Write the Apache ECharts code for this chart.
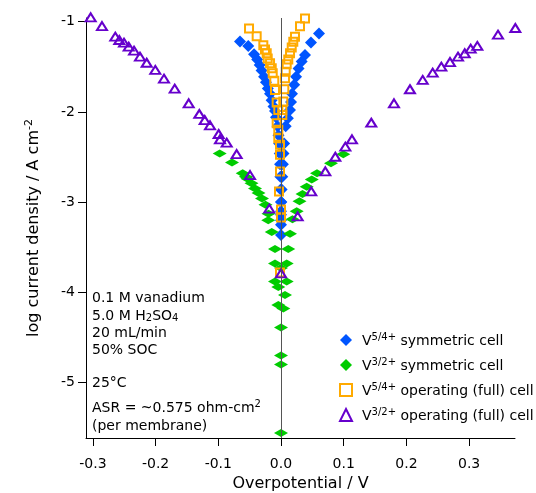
<!DOCTYPE html>
<html>
<head>
<meta charset="utf-8">
<script src="https://cdn.jsdelivr.net/npm/echarts@6/dist/echarts.min.js"></script>
<style>
  html, body { margin: 0; padding: 0; background: #fff; }
  #chart { width: 536px; height: 493px; }
</style>
</head>
<body>
<div id="chart"></div>
<script>
// [overpotential V, log current density]
const v54SymLeft = [
  [-0.0654, -1.22], [-0.0522, -1.27], [-0.043, -1.36], [-0.038, -1.42], [-0.034, -1.48],
  [-0.031, -1.54], [-0.027, -1.61], [-0.024, -1.67], [-0.021, -1.74], [-0.0175, -1.80],
  [-0.015, -1.87], [-0.012, -1.94], [-0.0096, -1.99], [-0.008, -2.06], [-0.0055, -2.16],
  [-0.004, -2.26], [-0.003, -2.35], [-0.002, -2.46], [-0.0015, -2.58], [-0.001, -2.72],
  [-0.0005, -2.86], [0, -3.0], [0, -3.14], [0, -3.25]
];
const v54SymRight = [
  [0.0606, -1.13], [0.0478, -1.23], [0.0383, -1.37], [0.033, -1.44], [0.028, -1.52],
  [0.024, -1.61], [0.021, -1.70], [0.0175, -1.80], [0.016, -1.89], [0.0144, -1.98],
  [0.011, -2.07], [0.0075, -2.16], [0.005, -2.35], [0.004, -2.46], [0.003, -2.58],
  [0.002, -2.72], [0.001, -2.86], [0.0005, -3.0], [0, -3.1], [0, -3.2], [0, -3.365]
];
const v32SymLeft = [
  [-0.0978, -2.46], [-0.0781, -2.56], [-0.0611, -2.68], [-0.056, -2.72], [-0.0534, -2.74],
  [-0.047, -2.79], [-0.0415, -2.85], [-0.0359, -2.90], [-0.0303, -2.96], [-0.0247, -3.03],
  [-0.0199, -3.13], [-0.0203, -3.20], [-0.0148, -3.33], [-0.0096, -3.52]
];
const v32SymRight = [
  [0.0994, -2.47], [0.0797, -2.57], [0.0574, -2.68], [0.049, -2.75], [0.041, -2.83],
  [0.0343, -2.91], [0.0295, -2.99], [0.025, -3.10], [0.0183, -3.19], [0.0144, -3.35],
  [0.0116, -3.52]
];
const v32SymCenter = [
  [-0.0096, -3.68], [0.0091, -3.68], [0, -3.73], [-0.0096, -3.88], [0.0091, -3.88],
  [-0.0043, -3.94], [0.0064, -4.03], [-0.0043, -4.14], [0.0037, -4.18], [0, -4.39],
  [0, -4.70], [0, -4.80], [0, -5.56]
];
const v54FullLeft = [
  [-0.0510, -1.075], [-0.0388, -1.16], [-0.0282, -1.26], [-0.0255, -1.307], [-0.0228, -1.351],
  [-0.0212, -1.407], [-0.0175, -1.462], [-0.0148, -1.517], [-0.0132, -1.572], [-0.0107, -1.654],
  [-0.0096, -1.757], [-0.0069, -1.897], [-0.0043, -1.978]
];
const v54FullRight = [
  [0.0383, -0.965], [0.0303, -1.05], [0.0223, -1.168], [0.0196, -1.223], [0.0171, -1.285],
  [0.0144, -1.351], [0.0116, -1.418], [0.0091, -1.473], [0.0075, -1.555], [0.0064, -1.628],
  [0.0053, -1.749], [0.0037, -1.886], [0.0021, -1.978]
];
const v54FullCenter = [
  [0.0021, -2.033], [-0.0069, -2.125], [-0.0043, -2.199], [-0.0043, -2.291], [-0.0016, -2.365],
  [-0.0016, -2.475], [-0.0016, -2.66], [-0.0032, -2.881], [0, -3.083], [0, -3.171], [-0.0016, -3.779]
];
const v32FullLeft = [
  [-0.3035, -0.951], [-0.2855, -1.048], [-0.2643, -1.166], [-0.2579, -1.203], [-0.2504, -1.233],
  [-0.2429, -1.277], [-0.2344, -1.321], [-0.2249, -1.388], [-0.2142, -1.455], [-0.2005, -1.535],
  [-0.1866, -1.632], [-0.1695, -1.743], [-0.1472, -1.905], [-0.1303, -2.023], [-0.1217, -2.09],
  [-0.1132, -2.149], [-0.0994, -2.245], [-0.0973, -2.304], [-0.0866, -2.341], [-0.0707, -2.467],
  [-0.0494, -2.70], [-0.0187, -3.073]
];
const v32FullRight = [
  [0.3737, -1.07], [0.3461, -1.144], [0.3131, -1.269], [0.3025, -1.299], [0.2930, -1.35],
  [0.2823, -1.388], [0.2695, -1.447], [0.2557, -1.499], [0.2419, -1.565], [0.2260, -1.646],
  [0.2057, -1.749], [0.1802, -1.905], [0.1440, -2.12], [0.1132, -2.304], [0.1026, -2.386],
  [0.0866, -2.497], [0.0707, -2.659], [0.0483, -2.88], [0.0266, -3.158], [0, -3.79]
];

const xTicks = [-0.3, -0.2, -0.1, 0, 0.1, 0.2, 0.3];
const yTicks = [-5, -4, -3, -2, -1];

const FONT = 'DejaVu Sans';
const colors = {
  v54Sym: '#0055ff',
  v32Sym: '#00cc00',
  v54Full: '#ffaa00',
  v32Full: '#6600cc'
};

const richText = {
  n: { fontFamily: FONT, fontSize: 14, color: '#000', lineHeight: 16, verticalAlign: 'bottom' },
  sup: { fontFamily: FONT, fontSize: 10, color: '#000', lineHeight: 10, verticalAlign: 'top', padding: [0, 0, 8, 0] },
  sub: { fontFamily: FONT, fontSize: 10, color: '#000', lineHeight: 10, verticalAlign: 'bottom', padding: [8, 0, 0, 0] }
};

const legendLabels = {
  'V5/4+ symmetric cell': '{pad|}{n|V}{sup|5/4+}{n| symmetric cell}',
  'V3/2+ symmetric cell': '{pad|}{n|V}{sup|3/2+}{n| symmetric cell}',
  'V5/4+ operating (full) cell': '{pad|}{n|V}{sup|5/4+}{n| operating (full) cell}',
  'V3/2+ operating (full) cell': '{pad|}{n|V}{sup|3/2+}{n| operating (full) cell}'
};

// notes block in the lower left corner
const notes = [
  { text: '{n|0.1 M vanadium}', y: 297 },
  { text: '{n|5.0 M H}{sub|2}{n|SO}{sub|4}', y: 315 },
  { text: '{n|20 mL/min}', y: 332 },
  { text: '{n|50% SOC}', y: 349 },
  { text: '{n|25°C}', y: 382 },
  { text: '{n|ASR = ~0.575 ohm-cm}{sup|2}', y: 407 },
  { text: '{n|(per membrane)}', y: 425 }
];

const chart = echarts.init(document.getElementById('chart'));

const option = {
  animation: false,
  grid: { left: 86, right: 21, top: 18, bottom: 55, outerBoundsMode: 'none' },
  xAxis: {
    type: 'value',
    min: -0.311,
    max: 0.3732,
    name: 'Overpotential / V',
    nameLocation: 'middle',
    nameGap: 38,
    nameTextStyle: { fontFamily: FONT, fontSize: 16, color: '#000' },
    axisLine: { onZero: false, lineStyle: { color: '#000', width: 1 } },
    axisTick: { customValues: xTicks, length: 8, lineStyle: { color: '#000' } },
    axisLabel: {
      customValues: xTicks,
      margin: 19,
      fontFamily: FONT,
      fontSize: 14,
      color: '#000',
      formatter: (v) => v.toFixed(1)
    },
    splitLine: { show: false }
  },
  yAxis: {
    type: 'value',
    min: -5.615,
    max: -0.959,
    name: '{n|log current density / A cm}{sup|-2}',
    nameLocation: 'middle',
    nameGap: 44,
    nameTextStyle: {
      rich: {
        n: { fontFamily: FONT, fontSize: 16, color: '#000', lineHeight: 18, verticalAlign: 'bottom' },
        sup: { fontFamily: FONT, fontSize: 11, color: '#000', lineHeight: 11, verticalAlign: 'top', padding: [0, 0, 9, 0] }
      }
    },
    axisLine: { onZero: false, lineStyle: { color: '#000', width: 1 } },
    axisTick: { customValues: yTicks, length: 8, lineStyle: { color: '#000' } },
    axisLabel: {
      customValues: yTicks,
      margin: 11,
      fontFamily: FONT,
      fontSize: 14,
      color: '#000',
      formatter: (v) => String(v)
    },
    splitLine: { show: false }
  },
  legend: {
    orient: 'vertical',
    left: 334,
    top: 327,
    itemWidth: 12,
    itemHeight: 12,
    itemGap: 7,
    formatter: (name) => legendLabels[name],
    textStyle: {
      rich: Object.assign({ pad: { width: 5 } }, richText)
    }
  },
  graphic: notes.map((line) => ({
    type: 'text',
    x: 92,
    y: line.y,
    silent: true,
    style: {
      text: line.text,
      rich: richText,
      align: 'left',
      verticalAlign: 'middle'
    }
  })),
  series: [
    {
      name: 'V5/4+ symmetric cell',
      type: 'scatter',
      clip: false,
      symbol: 'diamond',
      symbolSize: 12,
      itemStyle: { color: colors.v54Sym, opacity: 1 },
      data: v54SymLeft.concat(v54SymRight),
      markLine: {
        silent: true,
        symbol: ['none', 'none'],
        label: { show: false },
        lineStyle: { color: '#555', width: 1, type: 'solid' },
        data: [{ xAxis: 0 }]
      }
    },
    {
      name: 'V3/2+ symmetric cell',
      type: 'scatter',
      clip: false,
      symbol: 'diamond',
      symbolSize: [14, 8],
      itemStyle: { color: colors.v32Sym, opacity: 1 },
      data: v32SymLeft.concat(v32SymRight, v32SymCenter)
    },
    {
      name: 'V5/4+ operating (full) cell',
      type: 'scatter',
      clip: false,
      symbol: 'rect',
      symbolSize: 8,
      itemStyle: { color: 'rgba(0,0,0,0)', borderColor: colors.v54Full, borderWidth: 2, opacity: 1 },
      data: v54FullLeft.concat(v54FullRight, v54FullCenter)
    },
    {
      name: 'V3/2+ operating (full) cell',
      type: 'scatter',
      clip: false,
      symbol: 'triangle',
      symbolSize: [10, 8],
      itemStyle: { color: 'rgba(0,0,0,0)', borderColor: colors.v32Full, borderWidth: 2, opacity: 1 },
      data: v32FullLeft.concat(v32FullRight)
    }
  ]
};

chart.setOption(option);
</script>
</body>
</html>
